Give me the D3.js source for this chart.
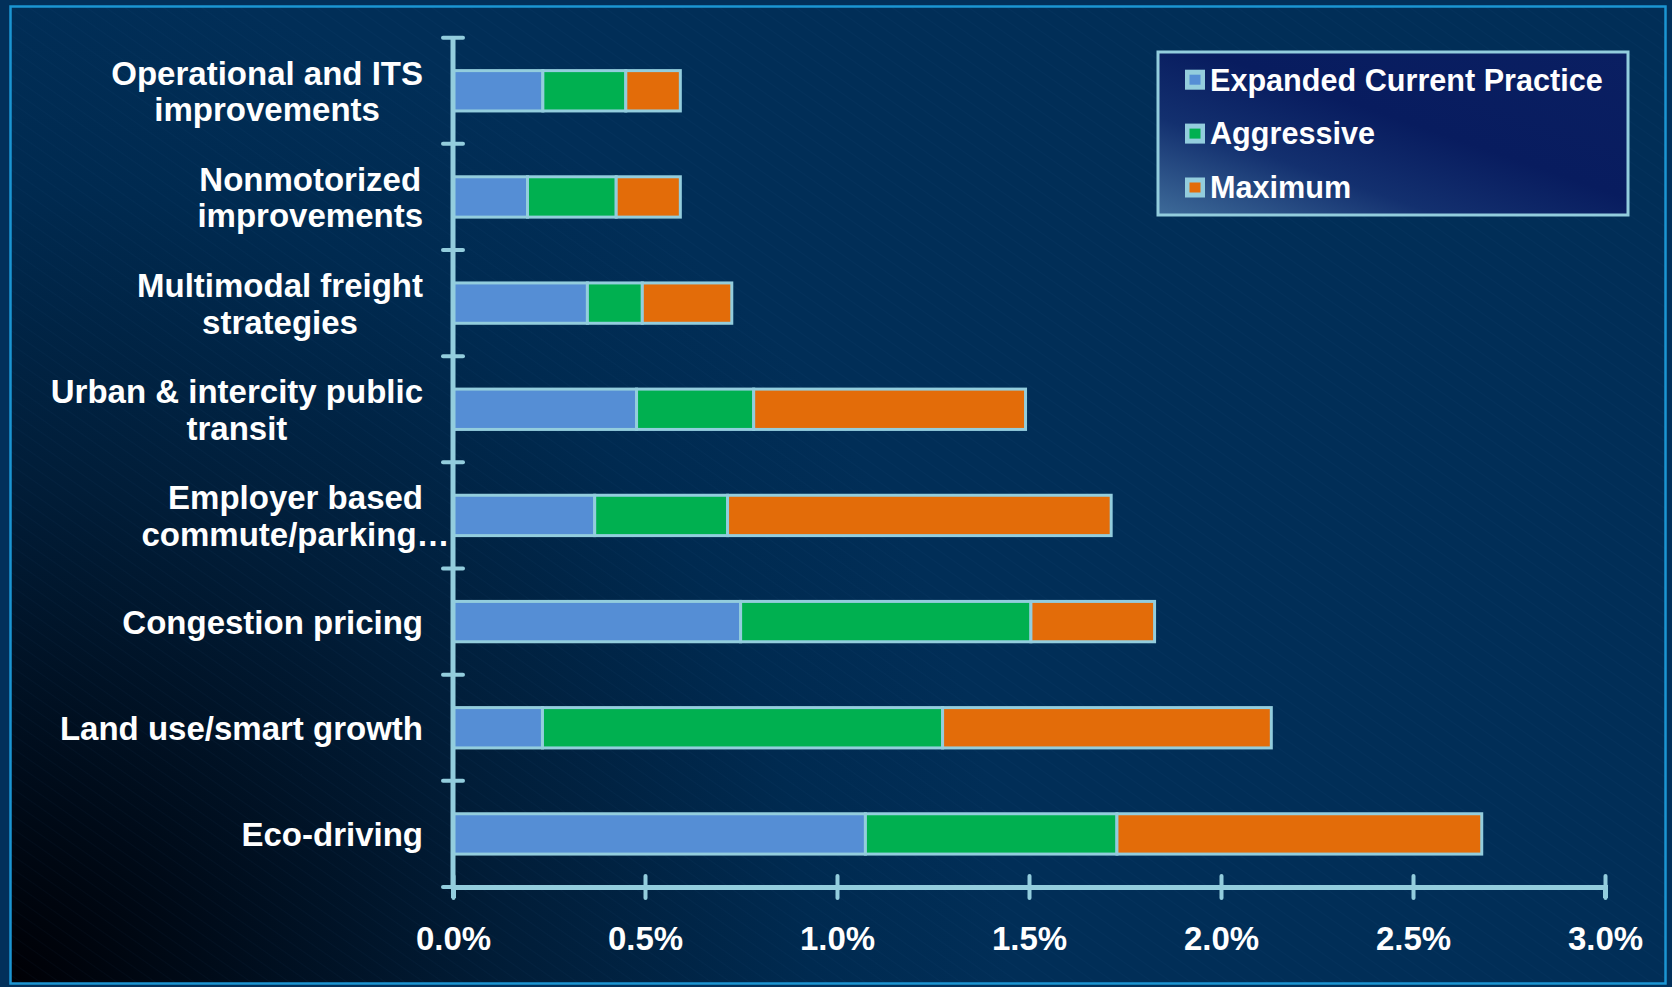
<!DOCTYPE html>
<html>
<head>
<meta charset="utf-8">
<script src="https://cdn.jsdelivr.net/npm/d3@7"></script>
<style>
  html, body { margin: 0; padding: 0; background: #02305a; }
  svg { display: block; }
  text { font-family: "Liberation Sans", Arial, Helvetica, sans-serif; font-weight: bold; fill: #ffffff; }
</style>
</head>
<body>
<svg id="chart" width="1672" height="987"></svg>
<script>
// Strategy categories, top to bottom; each label is split into its display lines
const categories = [
  "Operational and ITS improvements",
  "Nonmotorized improvements",
  "Multimodal freight strategies",
  "Urban & intercity public transit",
  "Employer based commute/parking…",
  "Congestion pricing",
  "Land use/smart growth",
  "Eco-driving"
];
const categoryLines = [
  ["Operational and ITS", "improvements"],
  ["Nonmotorized", "improvements"],
  ["Multimodal freight", "strategies"],
  ["Urban & intercity public", "transit"],
  ["Employer based", "commute/parking…"],
  ["Congestion pricing"],
  ["Land use/smart growth"],
  ["Eco-driving"]
];

// Series names and values (percent reduction), stacked left to right
const seriesNames = ["Expanded Current Practice", "Aggressive", "Maximum"];
const expandedCurrentPractice = [0.234, 0.194, 0.350, 0.478, 0.369, 0.749, 0.233, 1.074];
const aggressive              = [0.216, 0.231, 0.143, 0.305, 0.346, 0.756, 1.042, 0.655];
const maximum                 = [0.142, 0.167, 0.233, 0.708, 0.999, 0.322, 0.856, 0.950];

// Axis ticks (percent)
const xTicks = [0, 0.5, 1.0, 1.5, 2.0, 2.5, 3.0];

const colors = ["#558ed5", "#00b050", "#e36c09"];
const edge = "#93cddd";

const svg = d3.select("#chart");
const defs = svg.append("defs");

// Background: navy with a dark pool in the lower-left corner
const bg = defs.append("radialGradient").attr("id", "bg")
  .attr("gradientUnits", "userSpaceOnUse")
  .attr("cx", 10).attr("cy", 985).attr("r", 1000);
bg.append("stop").attr("offset", "0").attr("stop-color", "#000005");
bg.append("stop").attr("offset", "0.18").attr("stop-color", "#000a17");
bg.append("stop").attr("offset", "0.5").attr("stop-color", "#011d38");
bg.append("stop").attr("offset", "0.8").attr("stop-color", "#002a50");
bg.append("stop").attr("offset", "1").attr("stop-color", "#012e57");

// Faint diagonal texture
const hatch = defs.append("pattern").attr("id", "hatch")
  .attr("patternUnits", "userSpaceOnUse")
  .attr("width", 11).attr("height", 11)
  .attr("patternTransform", "rotate(35)");
hatch.append("line").attr("x1", 0).attr("y1", 0).attr("x2", 11).attr("y2", 0)
  .attr("stroke", "#3a6a9a").attr("stroke-opacity", 0.07).attr("stroke-width", 1.5);

// Legend panel fill
const lg = defs.append("linearGradient").attr("id", "legendFill")
  .attr("x1", 0).attr("y1", 1).attr("x2", 1).attr("y2", 0);
lg.append("stop").attr("offset", "0").attr("stop-color", "#3e6b99");
lg.append("stop").attr("offset", "0.3").attr("stop-color", "#13306f");
lg.append("stop").attr("offset", "0.55").attr("stop-color", "#081c5f");
lg.append("stop").attr("offset", "1").attr("stop-color", "#0a1f62");

svg.append("rect").attr("x", 0).attr("y", 0).attr("width", 1672).attr("height", 987).attr("fill", "#02305a");
svg.append("rect").attr("x", 10.5).attr("y", 6.5).attr("width", 1655).attr("height", 977).attr("fill", "url(#bg)");
svg.append("rect").attr("x", 10.5).attr("y", 6.5).attr("width", 1655).attr("height", 977).attr("fill", "url(#hatch)");
svg.append("rect").attr("x", 10.5).attr("y", 6.5).attr("width", 1655).attr("height", 977)
  .attr("fill", "none").attr("stroke", "#1b95d2").attr("stroke-width", 2.5);

// Scales
const plotLeft = 453, plotRight = 1605, plotTop = 37.7, plotBottom = 887;
const x = d3.scaleLinear().domain([0, 3]).range([plotLeft, plotRight]);
const y = d3.scaleBand().domain(categories).range([plotTop, plotBottom])
  .paddingInner(0.62).paddingOuter(0.31);

// Stacked data
const table = categories.map((c, i) => ({
  category: c,
  [seriesNames[0]]: expandedCurrentPractice[i],
  [seriesNames[1]]: aggressive[i],
  [seriesNames[2]]: maximum[i]
}));
const stacked = d3.stack().keys(seriesNames)(table);

// Bars
svg.append("g").selectAll("g")
  .data(stacked)
  .join("g")
  .attr("fill", (d, i) => colors[i])
  .selectAll("rect")
  .data(d => d)
  .join("rect")
  .attr("x", d => x(d[0]))
  .attr("y", d => y(d.data.category))
  .attr("width", d => x(d[1]) - x(d[0]))
  .attr("height", y.bandwidth())
  .attr("stroke", edge)
  .attr("stroke-width", 3);

// Vertical category axis: line plus crossing ticks at band boundaries
const yAxis = svg.append("g");
yAxis.append("line")
  .attr("x1", plotLeft).attr("x2", plotLeft)
  .attr("y1", y.range()[0]).attr("y2", y.range()[1])
  .attr("stroke", edge).attr("stroke-width", 5);
const boundaries = d3.range(categories.length + 1).map(i => y.range()[0] + i * y.step());
yAxis.selectAll("line.tick")
  .data(boundaries)
  .join("line")
  .attr("class", "tick")
  .attr("x1", plotLeft - 10).attr("x2", plotLeft + 10)
  .attr("y1", d => d).attr("y2", d => d)
  .attr("stroke", edge).attr("stroke-width", 4).attr("stroke-linecap", "round");

// Horizontal value axis
const xAxis = svg.append("g")
  .attr("transform", `translate(0,${plotBottom})`)
  .call(d3.axisBottom(x).tickValues(xTicks).tickFormat(d => d.toFixed(1) + "%").tickSizeOuter(0).tickSize(11));
xAxis.select(".domain").attr("stroke", edge).attr("stroke-width", 5);
xAxis.selectAll(".tick line")
  .attr("y1", -11).attr("y2", 11)
  .attr("stroke", edge).attr("stroke-width", 4).attr("stroke-linecap", "round");
xAxis.selectAll(".tick text")
  .attr("y", 63).attr("dy", null)
  .attr("fill", "#ffffff")
  .style("font-size", "33px")
  .style("font-family", "\"Liberation Sans\", Arial, sans-serif")
  .style("font-weight", "bold");

// Category labels: lines centred on each other, block right-aligned 30px left of the axis.
// A truncated line (ending in an ellipsis) does not widen the block.
const labelSize = 33, lineGap = 36.5;
const labels = svg.append("g");
categories.forEach((c, i) => {
  const lines = categoryLines[i];
  const cy = y(c) + y.bandwidth() / 2;
  const g = labels.append("g");
  const texts = lines.map((ln, k) => g.append("text")
    .attr("text-anchor", "middle")
    .style("font-size", labelSize + "px")
    .attr("y", cy - (lines.length - 1) * lineGap / 2 + k * lineGap + 0.37 * labelSize)
    .text(ln));
  const full = texts.filter(t => !/…$/.test(t.text()));
  const measured = (full.length ? full : texts).map(t => t.node().getComputedTextLength());
  const block = d3.max(measured);
  const center = plotLeft - 30 - block / 2;
  texts.forEach(t => t.attr("x", center));
});

// Legend
const legend = svg.append("g");
legend.append("rect")
  .attr("x", 1158).attr("y", 52).attr("width", 470).attr("height", 163)
  .attr("fill", "url(#legendFill)")
  .attr("stroke", edge).attr("stroke-width", 3);
const rowY = d3.scalePoint().domain(seriesNames).range([79.7, 187.5]);
const rows = legend.selectAll("g.row")
  .data(seriesNames)
  .join("g")
  .attr("class", "row");
rows.append("rect")
  .attr("x", 1185).attr("y", d => rowY(d) - 10)
  .attr("width", 20).attr("height", 20)
  .attr("fill", edge);
rows.append("rect")
  .attr("x", 1189.5).attr("y", d => rowY(d) - 5)
  .attr("width", 11).attr("height", 10)
  .attr("fill", (d, i) => colors[i]);
rows.append("text")
  .attr("x", 1210).attr("y", d => rowY(d) + 10.8)
  .style("font-size", "30.6px")
  .text(d => d);
</script>
</body>
</html>
